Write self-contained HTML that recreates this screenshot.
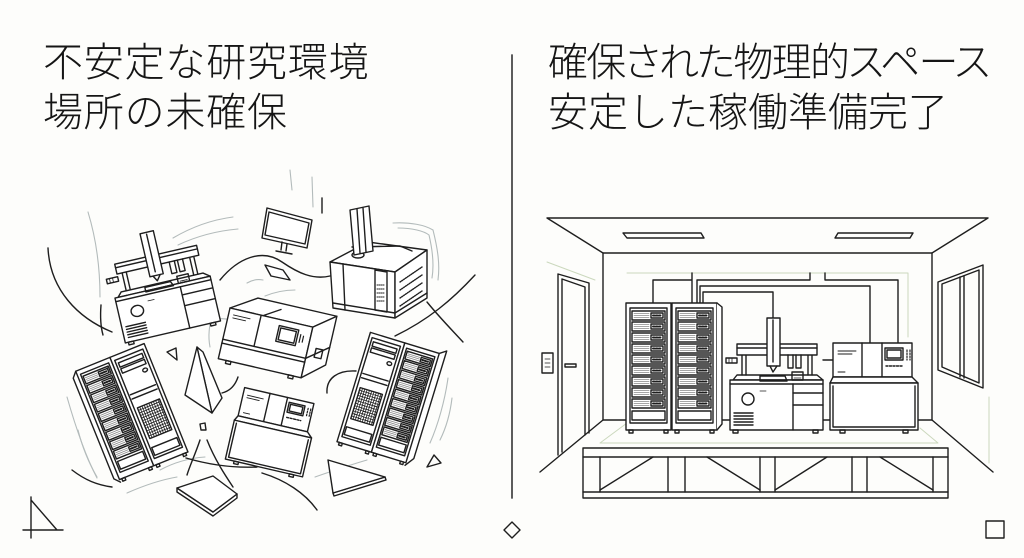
<!DOCTYPE html>
<html><head><meta charset="utf-8">
<style>
html,body{margin:0;padding:0;background:#fdfdfb;}
.wrap{position:relative;width:1024px;height:558px;overflow:hidden;background:#fdfdfb;}
.t{position:absolute;font-family:"Liberation Sans","Noto Sans CJK JP",sans-serif;font-size:40px;line-height:50px;color:#151515;font-weight:300;white-space:nowrap;}
.p{font-feature-settings:"palt";letter-spacing:-1.7px;}
.l{letter-spacing:0.8px;}
svg{position:absolute;left:0;top:0;}
svg *{vector-effect:non-scaling-stroke;}
</style></head><body>
<div class="wrap">
<svg width="1024" height="558" viewBox="0 0 1024 558" xmlns="http://www.w3.org/2000/svg">
<defs>
<g id="srv">
 <rect x="0" y="0" width="45" height="127" fill="#fff"/>
 <rect x="4" y="5" width="37" height="115"/>
 <path d="M6 8h33v9h-33z M6 19h33v9h-33z M6 30h33v9h-33z M6 41h33v9h-33z M6 52h33v9h-33z M6 63h33v9h-33z M6 74h33v9h-33z M6 85h33v9h-33z M6 96h33v9h-33z"/>
 <path stroke="#888" stroke-width="0.8" d="M8 10.5h15M8 12.5h15M8 14.5h15 M8 21.5h15M8 23.5h15M8 25.5h15 M8 32.5h15M8 34.5h15M8 36.5h15 M8 43.5h15M8 45.5h15M8 47.5h15 M8 54.5h15M8 56.5h15M8 58.5h15 M8 65.5h15M8 67.5h15M8 69.5h15 M8 76.5h15M8 78.5h15M8 80.5h15 M8 87.5h15M8 89.5h15M8 91.5h15 M8 98.5h15M8 100.5h15M8 102.5h15"/>
 <path d="M25 10h12v5h-12z M25 21h12v5h-12z M25 32h12v5h-12z M25 43h12v5h-12z M25 54h12v5h-12z M25 65h12v5h-12z M25 76h12v5h-12z M25 87h12v5h-12z M25 98h12v5h-12z"/>
 <path stroke-width="2" d="M27 12.5h1.5m1.5 0h1.5m1.5 0h1.5 M27 23.5h1.5m1.5 0h1.5m1.5 0h1.5 M27 34.5h1.5m1.5 0h1.5m1.5 0h1.5 M27 45.5h1.5m1.5 0h1.5m1.5 0h1.5 M27 56.5h1.5m1.5 0h1.5m1.5 0h1.5 M27 67.5h1.5m1.5 0h1.5m1.5 0h1.5 M27 78.5h1.5m1.5 0h1.5m1.5 0h1.5 M27 89.5h1.5m1.5 0h1.5m1.5 0h1.5 M27 100.5h1.5m1.5 0h1.5m1.5 0h1.5"/>
 <rect x="6" y="108" width="33" height="9"/>
 <rect x="3" y="127" width="4" height="3"/><rect x="38" y="127" width="4" height="3"/>
</g>
<g id="grd">
 <rect x="0" y="0" width="45" height="127" fill="#fff"/>
 <rect x="4" y="5" width="37" height="115"/>
 <rect x="7" y="9" width="31" height="5"/><rect x="7" y="16" width="31" height="5"/>
 <ellipse cx="34" cy="27" rx="3" ry="2"/>
 <path d="M6 46h33 M6 51h33"/>
 <rect x="8" y="62" width="29" height="36"/>
 <path stroke-width="0.8" d="M8 65h29M8 68h29M8 71h29M8 74h29M8 77h29M8 80h29M8 83h29M8 86h29M8 89h29M8 92h29M8 95h29 M11 62v36M14 62v36M17 62v36M20 62v36M23 62v36M26 62v36M29 62v36M32 62v36M35 62v36"/>
 <rect x="6" y="108" width="33" height="9"/>
 <rect x="3" y="127" width="4" height="3"/><rect x="38" y="127" width="4" height="3"/>
</g>
</defs>

<g fill="none" stroke="#1e1e1e" stroke-width="1.4" stroke-linejoin="round" stroke-linecap="round">

<!-- ===== divider & markers ===== -->
<line x1="512" y1="55" x2="512" y2="498" stroke="#4a4a4a" stroke-width="1.8"/>
<path d="M512 522 L520 530 L512 538 L504 530 Z"/>
<rect x="986" y="521" width="18" height="17"/>
<path d="M31 497 V538 M23 530 H63 M31 500 L57 530"/>

<!-- ===== RIGHT: room ===== -->
<path d="M547 218 H988 L932 253 H603 Z"/>
<path d="M623 233 H701 L704 238 H627 Z"/>
<path d="M838 233 H913 L910 238 H835 Z"/>
<path d="M603 253 V420 M932 253 V420 M603 420 H932"/>
<path d="M603 420 L540 472 M932 420 L993 472"/>
<g stroke="#cbd8bd" stroke-width="1">
 <path d="M547 262 L595 280"/>
 <path d="M627 273 H908 V337"/>
 <path d="M600 443 L627 423 M600 443 H938 L920 428"/>
 <path d="M989 397 V463"/>
</g>
<!-- door -->
<path d="M558 455 V274 L589 283 V433"/>
<path d="M562 452 V279 L585 287 V435"/>
<rect x="565" y="364" width="11" height="3"/>
<rect x="542" y="353" width="11" height="20"/>
<path d="M545 359 h5 M545 363 h5 M545 367 h5" stroke-width="0.8"/>
<!-- window -->
<path d="M938 282 L983 265 V388 L938 370 Z"/>
<path d="M942 284 L979 270 V383 L942 367 Z"/>
<path d="M960 277 V377 M964 276 V378"/>
<!-- platform -->
<rect x="583" y="448" width="365" height="50" fill="#fdfdfb"/>
<path d="M583 457 H948 M583 492 H948"/>
<path d="M600 457 V492 M668 457 V492 M685 457 V492 M760 457 V492 M775 457 V492 M852 457 V492 M867 457 V492 M933 457 V492"/>
<path d="M600 490 L653 457 M707 457 L760 490 M775 490 L827 457 M880 457 L933 490"/>
<!-- cables -->
<path d="M653 303 V280 H692 V273 M692 280 V303"/>
<path d="M697 303 V280 H810 V273"/>
<path d="M825 273 V280 H898 V343"/>
<path d="M700 303 V286 H870 V343"/>
<path d="M703 303 V292 H773 V318"/>
<path d="M823 360 H833" />
<!-- racks -->
<use href="#srv" x="626" y="303"/>
<use href="#srv" x="672" y="303"/>
<path d="M717 303 L722 307 V424 L717 430" fill="#fff"/>
<!-- liquid handler -->
<g id="lh">
 <path d="M733 380 L737 375 H817 L823 380 Z" fill="#fff"/>
 <rect x="730" y="380" width="93" height="50" fill="#fff"/>
 <line x1="730" y1="384" x2="823" y2="384"/>
 <circle cx="748" cy="399" r="6"/>
 <path d="M734 413 H753 M734 416 H753 M734 419 H753 M734 422 H753 M734 425 H753"/>
 <line x1="793" y1="384" x2="793" y2="430"/>
 <path d="M793 393 H823 M793 405 H823"/>
 <path d="M760 391 h6" stroke-width="0.8"/>
 <rect x="733" y="430" width="5" height="3"/><rect x="813" y="430" width="5" height="3"/>
 <path d="M760 376 H785 L787 381 H760 Z"/>
 <rect x="792" y="372" width="11" height="8"/>
 <path d="M794 375h7M794 378h7" stroke-width="0.8"/>
 <path d="M742 355 V375 M746 355 V375 M808 355 V375 M812 355 V375"/>
 <rect x="737" y="344" width="80" height="11" fill="#fff"/>
 <line x1="737" y1="348" x2="817" y2="348"/>
 <rect x="767" y="318" width="13" height="48" fill="#fff"/>
 <line x1="773" y1="320" x2="773" y2="362"/>
 <path d="M770 366 L773 372 L777 366"/>
 <path d="M788 355 V368 H793 V355 M796 355 V368 H801 V355"/>
 <rect x="726" y="358" width="11" height="5" fill="#fff"/>
 <path d="M729 358v5M732 358v5" stroke-width="0.8"/>
</g>
<!-- right instrument -->
<g id="ms" transform="translate(830,343)">
 <rect x="3" y="0" width="79" height="34" fill="#fff"/>
 <path d="M32 0 V34 M52 0 V34"/>
 <path d="M8 8 H26 M8 11 H22 M8 29 H15" stroke-width="0.9"/>
 <rect x="55" y="5" width="18" height="12"/>
 <rect x="57" y="7" width="14" height="8"/>
 <path d="M77 7 v10 M80 7 v10" stroke-dasharray="1.5 1.5" stroke-width="1.2"/>
 <path d="M56 23 H72" stroke-dasharray="2 1.5"/>
 <path d="M3 34 L0 40 H88 L82 34 Z" fill="#fff"/>
 <rect x="0" y="40" width="88" height="47" fill="#fff"/>
 <path d="M3 43 V84 H85 V43"/>
 <rect x="10" y="87" width="5" height="3"/><rect x="73" y="87" width="5" height="3"/>
</g>

<!-- ===== LEFT: scattered ===== -->
<g stroke="#b3bbbb" stroke-width="1.1">
 <path d="M88 212 C95 235 100 265 100 297"/>
 <path d="M173 238 C190 228 210 220 233 217"/>
 <path d="M178 245 C195 237 215 231 238 229"/>
 <path d="M393 223 C410 222 425 225 433 230 C438 250 440 265 438 280"/>
 <path d="M398 228 C412 228 424 231 429 235 C433 252 434 266 432 278"/>
 <path d="M448 378 C445 400 438 425 430 443"/>
 <path d="M452 398 C450 415 445 430 440 440"/>
 <path d="M67 397 C75 425 85 455 97 478"/>
 <path d="M78 430 C83 450 90 465 97 477"/>
 <path d="M127 493 C145 485 160 480 177 477"/>
 <path d="M315 477 C335 470 350 465 367 460"/>
 <path d="M213 313 C209 325 208 337 210 347"/>
 <path d="M247 283 C252 280 258 279 263 280"/>
 <path d="M290 170 L292 190 M312 177 L313 207"/>
 <path d="M240 330 C250 345 265 352 280 355"/>
 <path d="M205 322 C215 318 225 318 232 320"/>
 <path d="M160 470 C175 462 190 458 205 457"/>
 <path d="M265 296 C275 292 285 290 295 290"/>
</g>
<path d="M48 248 C50 290 78 318 112 332"/>
<path d="M220 280 C238 258 262 248 282 262 C298 273 313 280 330 276"/>
<path d="M475 275 C452 300 428 320 395 336"/>
<path d="M427 302 C440 318 452 330 463 342"/>
<path d="M327 393 C326 378 338 370 356 371"/>
<path d="M262 473 C285 480 305 493 317 510"/>
<path d="M72 470 C85 480 97 485 112 487"/>
<path d="M207 440 C215 460 225 475 233 487"/>
<path d="M200 440 C195 455 190 465 187 475"/>
<path d="M238 377 C235 386 230 391 222 393"/>
<path d="M186 458 C210 465 235 468 257 467"/>
<path d="M322 198 L322 213"/>
<path d="M101 305 C100 318 101 328 103 335"/>

<use href="#lh" transform="translate(160,283) rotate(-13) scale(1.05,0.92) translate(-775,-375)"/>

<!-- monitor -->
<path d="M267 208 L312 220 L307 248 L262 238 Z" fill="#fff"/>
<path d="M269 212 L309 223 L305 244 L265 235 Z"/>
<path d="M282 242 L281 250 M287 244 L286 251 M276 251 L292 254"/>
<path d="M265 265 L283 270 L290 280 L271 276 Z" fill="#fff"/>

<!-- GC -->
<path d="M330 262 L368 242 L427 250 L395 272 Z" fill="#fff"/>
<path d="M330 262 L395 272 L395 318 L333 308 Z" fill="#fff"/>
<path d="M395 272 L427 250 L427 298 L395 318 Z" fill="#fff"/>
<path d="M343 264 L345 310"/>
<path d="M333 303 L395 313 M395 313 L427 293"/>
<path d="M375 270 L387 272 L387 312 L375 310 Z"/>
<path d="M377 285 h8 M377 289 h8 M377 293 h8 M377 297 h8 M377 301 h8" stroke-dasharray="1 1" stroke-width="1"/>
<path d="M352 247 L400 246 L412 251"/>
<ellipse cx="358" cy="255" rx="6" ry="3"/>
<path d="M400 282 L422 267 M400 290 L422 275 M400 298 L422 283 M400 306 L422 291" stroke-dasharray="1 1.2"/>
<path d="M350 210 L369 206 L373 251 L354 255 Z" fill="#fff"/>
<path d="M357 209 L360 253 M363 208 L366 252"/>

<!-- central instrument -->
<g transform="translate(230,308) rotate(13)">
 <path d="M0 0 L25 -16 H106 L85 0 Z" fill="#fff"/>
 <rect x="0" y="0" width="85" height="52" fill="#fff"/>
 <path d="M85 0 L106 -16 V34 L85 52 Z" fill="#fff"/>
 <path d="M0 32 H85 M0 36 H85 M85 32 L106 16"/>
 <path d="M32 0 V32 M34 0 L50 -10"/>
 <path d="M5 6 H22 M5 9 H18" stroke-width="0.9"/>
 <rect x="52" y="6" width="20" height="16"/>
 <rect x="54" y="8" width="16" height="12"/>
 <path d="M75 10 V18 M78 11 V17" stroke-width="1.2"/>
 <rect x="93" y="20" width="7" height="9"/>
 <rect x="8" y="52" width="5" height="3"/><rect x="72" y="52" width="5" height="3"/>
</g>

<use href="#ms" transform="translate(242,387) rotate(13) scale(0.9,0.85) translate(-830,-343)"/>

<g transform="translate(132,412) rotate(-22) scale(0.82,0.92)">
 <path d="M-45 -64 L-51 -58 V60 L-45 66" fill="#fff"/>
 <use href="#srv" x="-45" y="-64"/>
 <use href="#grd" x="0" y="-64"/>
</g>
<g transform="translate(388,398) rotate(17) scale(0.8,0.9)">
 <path d="M45 -64 L53 -69 V56 L45 66" fill="#fff"/>
 <use href="#grd" x="-45" y="-64"/>
 <use href="#srv" x="0" y="-64"/>
</g>

<path d="M197 347 L203 352 L222 398 L212 413 Z" fill="#fff"/>
<path d="M185 395 L197 347 L212 413 Z" fill="#fff"/>
<path d="M177 488 V492 L213 516 L237 498 V494 L213 512 Z" fill="#fff"/>
<path d="M177 488 L213 476 L237 494 L213 512 Z" fill="#fff"/>
<path d="M333 493 L334 496 L386 480 L385 477 Z" fill="#fff"/>
<path d="M328 460 L333 493 L385 477 Z" fill="#fff"/>
<path d="M167 352 L176 348 L177 360 Z"/>
<path d="M427 467 L434 455 L441 463 Z"/>
<path d="M200 424 L205 423 L206 430 L201 430 Z"/>
</g>
</svg>

<div class="t l" style="left:43px;top:38px">不安定な研究環境<br>場所の未確保</div>
<div class="t" style="left:548px;top:38px"><span class="p">確保された物理的スペース</span><br>安定した稼働準備完了</div>
</div>
</body></html>
